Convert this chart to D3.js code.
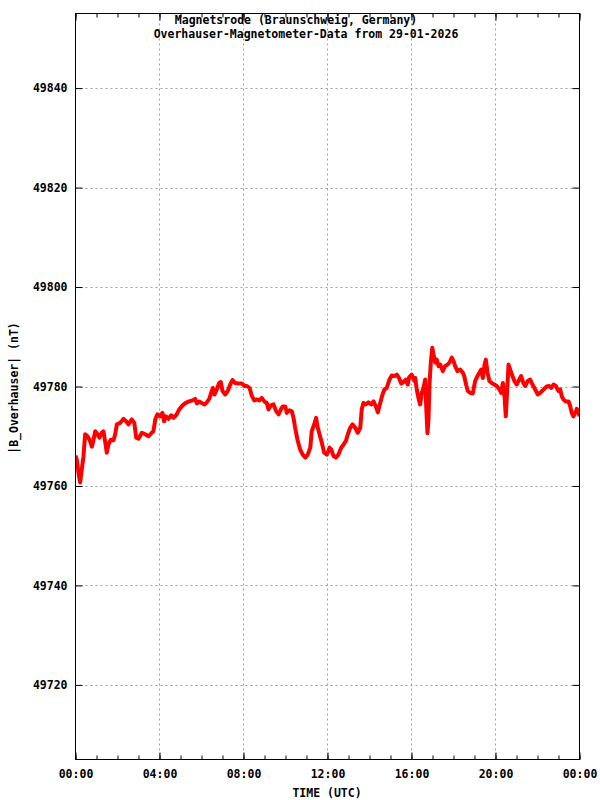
<!DOCTYPE html>
<html>
<head>
<meta charset="utf-8">
<script src="https://cdn.jsdelivr.net/npm/d3@7"></script>
<style>
  html, body { margin: 0; padding: 0; background: #fff; }
  svg text { font-family: "DejaVu Sans Mono", "Liberation Mono", monospace; font-weight: bold; font-size: 11.5px; fill: #000; }
</style>
</head>
<body>
<svg id="chart" width="600" height="800"></svg>
<script>
// ---- data ----
const titleLines = ["Magnetsrode (Braunschweig, Germany)", "Overhauser-Magnetometer-Data from 29-01-2026"];
const xAxisTitle = "TIME (UTC)";
const yAxisTitle = "|B_Overhauser| (nT)";
const xTickHours = [0, 4, 8, 12, 16, 20, 24];
const xTickLabels = ["00:00", "04:00", "08:00", "12:00", "16:00", "20:00", "00:00"];
const yTickValues = [49720, 49740, 49760, 49780, 49800, 49820, 49840];
const yDomain = [49705, 49855];

const timeHours = [
  0.00,0.06,0.14,0.22,0.30,0.38,0.46,0.57,0.67,0.78,0.86,0.94,1.05,1.14,1.25,1.33,1.41,1.49,1.57,1.68,
  1.81,1.89,1.97,2.13,2.29,2.41,2.52,2.68,2.80,2.89,3.00,3.16,3.32,3.48,3.63,3.71,3.80,3.90,4.03,4.14,
  4.22,4.30,4.43,4.56,4.67,4.82,4.94,5.10,5.25,5.41,5.57,5.70,5.78,5.89,6.01,6.14,6.25,6.37,6.46,6.54,
  6.62,6.73,6.84,6.92,7.00,7.13,7.25,7.37,7.48,7.60,7.76,7.92,8.05,8.16,8.29,8.40,8.51,8.63,8.76,8.87,
  8.99,9.11,9.19,9.30,9.43,9.56,9.67,9.78,9.87,9.99,10.06,10.19,10.30,10.38,10.46,10.57,10.70,10.82,10.95,11.06,
  11.18,11.25,11.37,11.46,11.52,11.62,11.73,11.84,11.97,12.10,12.18,12.29,12.40,12.52,12.65,12.76,12.87,12.97,13.08,13.19,
  13.32,13.44,13.56,13.63,13.71,13.82,13.95,14.08,14.19,14.30,14.40,14.51,14.62,14.71,14.82,14.94,15.06,15.19,15.30,15.41,
  15.51,15.62,15.73,15.82,15.89,16.01,16.14,16.18,16.25,16.33,16.41,16.49,16.57,16.65,16.70,16.76,16.81,16.86,16.92,16.99,
  17.05,17.13,17.20,17.29,17.37,17.49,17.60,17.71,17.81,17.92,18.00,18.08,18.19,18.32,18.44,18.51,18.60,18.68,18.80,18.92,
  19.03,19.14,19.24,19.32,19.40,19.48,19.54,19.62,19.71,19.82,19.94,20.06,20.19,20.27,20.35,20.43,20.49,20.56,20.62,20.70,
  20.78,20.90,21.01,21.13,21.22,21.33,21.41,21.54,21.65,21.76,21.89,22.01,22.13,22.29,22.44,22.56,22.65,22.76,22.87,23.00,
  23.08,23.16,23.24,23.35,23.48,23.56,23.63,23.71,23.80,23.87,23.95,24.00
];
const fieldNT = [
  49766.1,49765.3,49762.7,49760.7,49763.3,49766.0,49770.4,49770.0,49769.3,49767.9,49769.3,49771.0,49770.4,49769.7,49770.7,49771.0,49769.0,49766.7,49768.3,49769.3,
  49769.2,49770.4,49772.4,49772.7,49773.5,49773.0,49772.4,49773.4,49772.7,49769.7,49769.5,49770.7,49770.4,49770.0,49770.7,49771.0,49773.4,49774.4,49774.0,49774.7,
  49773.0,49774.0,49773.5,49774.2,49773.7,49774.4,49775.4,49776.2,49776.7,49777.0,49777.2,49777.5,49776.6,49777.0,49776.7,49776.4,49776.8,49777.5,49778.7,49779.7,
  49778.4,49779.4,49780.7,49780.9,49779.1,49778.4,49779.1,49780.4,49781.3,49780.7,49780.6,49780.6,49780.1,49780.1,49779.7,49778.1,49777.2,49777.4,49777.2,49777.7,
  49777.0,49776.7,49775.4,49776.2,49776.4,49775.0,49774.4,49775.4,49776.0,49776.0,49774.7,49775.2,49775.0,49773.7,49771.7,49769.3,49767.3,49766.3,49765.7,49766.3,
  49767.7,49771.0,49772.4,49773.7,49772.0,49770.4,49768.7,49766.7,49766.3,49767.7,49767.3,49766.0,49765.7,49766.3,49767.7,49768.3,49769.0,49770.4,49771.7,49772.4,
  49771.7,49770.7,49771.7,49775.4,49776.7,49776.4,49776.8,49776.4,49777.0,49776.0,49774.8,49776.7,49778.4,49779.4,49779.7,49781.3,49782.2,49782.1,49782.4,49781.7,
  49780.6,49780.9,49781.4,49780.4,49781.9,49782.4,49781.1,49781.7,49779.4,49777.7,49776.4,49778.7,49779.7,49781.4,49776.0,49770.6,49773.4,49780.7,49784.8,49787.8,
  49786.4,49784.8,49785.4,49784.1,49784.4,49783.1,49784.1,49784.4,49784.8,49785.8,49785.1,49784.1,49783.1,49783.4,49782.8,49782.1,49780.4,49779.1,49778.7,49778.6,
  49781.1,49782.1,49782.8,49783.4,49781.7,49784.4,49785.4,49782.8,49781.1,49780.7,49780.4,49780.1,49779.4,49778.7,49780.7,49778.0,49774.0,49779.4,49784.4,49783.4,
  49782.4,49781.1,49780.4,49781.4,49782.1,49780.7,49780.1,49781.1,49781.4,49780.4,49779.4,49778.4,49778.7,49779.4,49780.0,49780.1,49779.7,49780.4,49780.1,49779.1,
  49779.4,49778.0,49777.4,49777.0,49777.0,49776.0,49774.7,49774.0,49774.7,49775.5,49775.0,49774.0
];

// ---- layout ----
const L = 75.5, R = 579.5, T = 13.5, B = 759.5;
const svg = d3.select("#chart");
const x = d3.scaleLinear().domain([0, 24]).range([L, R]);
const y = d3.scaleLinear().domain(yDomain).range([B, T]);

// grid
const grid = svg.append("g").attr("stroke", "#a0a0a0").attr("stroke-width", 1).attr("stroke-dasharray", "2,3").attr("fill", "none");
grid.selectAll("line.gy").data(yTickValues).join("line")
  .attr("x1", L).attr("x2", R).attr("y1", d => Math.round(y(d)) + 0.5).attr("y2", d => Math.round(y(d)) + 0.5);
grid.selectAll("line.gx").data(xTickHours.slice(1, -1)).join("line")
  .attr("y1", T).attr("y2", B).attr("x1", d => Math.round(x(d) - 0.5) + 0.5).attr("x2", d => Math.round(x(d) - 0.5) + 0.5);

// data line
const line = d3.line().x((d, i) => x(timeHours[i])).y(d => y(d)).curve(d3.curveLinear);
svg.append("defs").append("clipPath").attr("id", "clip")
  .append("rect").attr("x", L).attr("y", T).attr("width", R - L).attr("height", B - T);
svg.append("path").datum(fieldNT)
  .attr("clip-path", "url(#clip)")
  .attr("d", line).attr("fill", "none").attr("stroke", "#ff0000")
  .attr("stroke-width", 4).attr("stroke-linejoin", "round").attr("stroke-linecap", "butt");

// axes
const minorHours = d3.range(0, 25, 1);
function styleAxis(g) {
  g.select(".domain").remove();
  g.selectAll(".tick line").attr("stroke", "#000").attr("stroke-width", 1);
  g.selectAll(".tick text").attr("font-size", null).attr("font-family", null);
}
svg.append("g").attr("transform", `translate(0,${B})`)
  .call(d3.axisBottom(x).tickValues(minorHours).tickSize(-4).tickFormat(""))
  .call(styleAxis);
svg.append("g").attr("transform", `translate(0,${T})`)
  .call(d3.axisTop(x).tickValues(minorHours).tickSize(-4).tickFormat(""))
  .call(styleAxis);
svg.append("g").attr("transform", `translate(0,${B})`)
  .call(d3.axisBottom(x).tickValues(xTickHours).tickSize(-7).tickPadding(10).tickFormat((d, i) => xTickLabels[i]))
  .call(styleAxis);
svg.append("g").attr("transform", `translate(0,${T})`)
  .call(d3.axisTop(x).tickValues(xTickHours).tickSize(-7).tickFormat(""))
  .call(styleAxis);
svg.append("g").attr("transform", `translate(${L},0)`)
  .call(d3.axisLeft(y).tickValues(yTickValues).tickSize(-7).tickPadding(8).tickFormat(d3.format("d")))
  .call(styleAxis);
svg.append("g").attr("transform", `translate(${R},0)`)
  .call(d3.axisRight(y).tickValues(yTickValues).tickSize(-7).tickFormat(""))
  .call(styleAxis);

// frame
svg.append("rect").attr("x", L).attr("y", T).attr("width", R - L).attr("height", B - T)
  .attr("fill", "none").attr("stroke", "#000").attr("stroke-width", 1);

// titles
svg.append("text").attr("x", 296).attr("y", 24).attr("text-anchor", "middle").text(titleLines[0]);
svg.append("text").attr("x", 306).attr("y", 38).attr("text-anchor", "middle").text(titleLines[1]);
svg.append("text").attr("x", 327).attr("y", 797).attr("text-anchor", "middle").text(xAxisTitle);
svg.append("text").attr("transform", "translate(18,388) rotate(-90)").attr("text-anchor", "middle").text(yAxisTitle);
</script>
</body>
</html>
